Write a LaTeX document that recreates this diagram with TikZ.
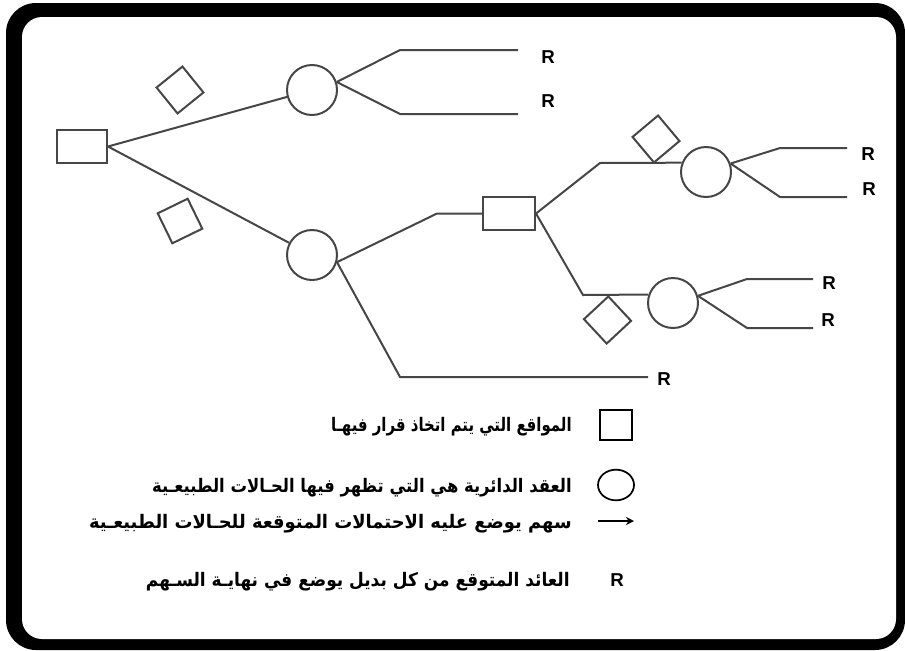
\documentclass[tikz,border=0pt]{standalone}
\usepackage{fontspec}
\usepackage{graphicx}
\setmainfont{Liberation Sans}
\newfontfamily\arabicfont[Script=Arabic]{DejaVu Sans}
\TeXXeTstate=1
\usetikzlibrary{arrows.meta,shapes.geometric}
\definecolor{lc}{RGB}{70,70,70}
\begin{document}
\begin{tikzpicture}[x=0.75pt,y=-0.75pt,
  ln/.style={draw=lc, line width=1.5pt},
  dec/.style={ln, rectangle, minimum width=37.5pt, minimum height=24.75pt, inner sep=0pt},
  chance/.style={ln, circle, minimum size=37.5pt, inner sep=0pt},
  prob/.style={ln, rectangle, minimum size=25pt, inner sep=0pt},
  rlab/.style={font=\fontsize{14}{16}\selectfont\bfseries, inner sep=0pt},
  leg/.style={font=\arabicfont\bfseries\fontsize{14}{16}\selectfont, anchor=east, inner sep=0pt}]
\useasboundingbox (0,0) rectangle (905,650);
\fill[white] (0,0) rectangle (905,650);
% frame
\fill[black, rounded corners=30*0.75pt] (6,3) rectangle (905,650);
\fill[white, rounded corners=20*0.75pt] (22,17) rectangle (896,639);
% decision and chance nodes
\node[dec] (s1) at (82,146.5) {};
\node[chance] (c1) at (312,90) {};
\node[chance] (c2) at (312,255) {};
\node[dec, minimum width=39pt] (s2) at (509,213.5) {};
\node[chance] (c3) at (706,172) {};
\node[chance] (c4) at (673,303) {};
% probability markers
\node[prob, rotate=39] (d1) at (180,90) {};
\node[prob, rotate=26] (d2) at (180,221) {};
\node[prob, rotate=40] (d3) at (656,139) {};
\node[prob, rotate=43] (d4) at (607.5,320) {};
% bends and ends
\coordinate (b1a) at (400,50);  \coordinate (e1a) at (518,50);
\coordinate (b1b) at (400,114); \coordinate (e1b) at (518,114);
\coordinate (b2a) at (437,213.5);
\coordinate (b2b) at (400,377); \coordinate (e2b) at (648,377);
\coordinate (b3a) at (600,163);
\coordinate (b3b) at (583,295);
\coordinate (b4a) at (780,148); \coordinate (e4a) at (847,148);
\coordinate (b4b) at (780,197); \coordinate (e4b) at (847,197);
\coordinate (b5a) at (747,279); \coordinate (e5a) at (813,279);
\coordinate (b5b) at (747,328); \coordinate (e5b) at (813,328);
% connectors
\draw[ln] (s1.east) -- (c1);
\draw[ln] (s1.east) -- (c2);
\draw[ln] (c1.18) -- (b1a) -- (e1a);
\draw[ln] (c1.18) -- (b1b) -- (e1b);
\draw[ln] (c2.-16) -- (b2a) -- (s2.west);
\draw[ln] (c2.-16) -- (b2b) -- (e2b);
\draw[ln] (s2.east) -- (b3a) -- (c3.159);
\draw[ln] (s2.east) -- (b3b) -- (c4.161);
\draw[ln] (c3.19) -- (b4a) -- (e4a);
\draw[ln] (c3.19) -- (b4b) -- (e4b);
\draw[ln] (c4.16) -- (b5a) -- (e5a);
\draw[ln] (c4.16) -- (b5b) -- (e5b);
% R labels
\node[rlab] (r1a) at (548,57) {R};
\node[rlab] (r1b) at (548,101) {R};
\node[rlab] (r2b) at (664,379) {R};
\node[rlab] (r4a) at (868,154) {R};
\node[rlab] (r4b) at (869,189) {R};
\node[rlab] (r5a) at (829,283) {R};
\node[rlab] (r5b) at (828,320) {R};
% legend
\node[draw=black, line width=1.3pt, rectangle, minimum width=24pt, minimum height=22.5pt, inner sep=0pt] (lsq) at (616,425) {};
\node[draw=black, line width=1.3pt, ellipse, minimum width=27pt, minimum height=23pt, inner sep=0pt] (lci) at (616,485) {};
\coordinate (la1) at (598,521); \coordinate (la2) at (634,521);
\draw[black, line width=1.4pt, -{Stealth[length=6pt,width=6pt]}] (la1) -- (la2);
\node[rlab] (lr) at (617,580) {R};
\node[leg] (t1) at (572,427) {\scalebox{0.80}[1]{\beginR المواقع التي يتم اتخاذ قرار فيهـا\endR}};
\node[leg] (t2) at (572,488) {\scalebox{0.88}[1]{\beginR العقد الدائرية هي التي تظهر فيها الحـالات الطبيعـية\endR}};
\node[leg] (t3) at (572,524) {\scalebox{0.96}[1]{\beginR سهم يوضع عليه الاحتمالات المتوقعة للحـالات الطبيعـية\endR}};
\node[leg] (t4) at (570,582) {\scalebox{0.91}[1]{\beginR العائد المتوقع من كل بديل يوضع في نهايـة السـهم\endR}};
\end{tikzpicture}
\end{document}
